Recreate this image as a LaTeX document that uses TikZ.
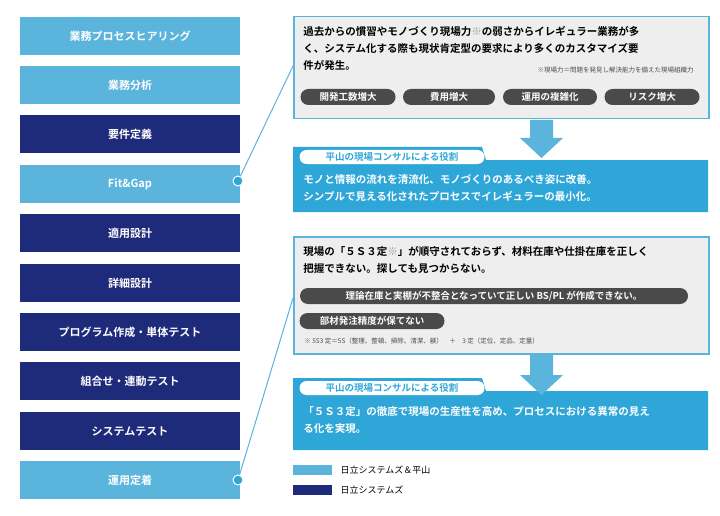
\documentclass[tikz,border=0pt]{standalone}
\usepackage{fontspec}
\setmainfont{Noto Sans CJK JP}
\newfontfamily\jpbold{Noto Sans CJK JP Bold}
\definecolor{lblue}{HTML}{5BB4DC}
\definecolor{navy}{HTML}{1E2A7A}
\definecolor{rblue}{HTML}{2EA7D8}
\definecolor{pillgray}{HTML}{4A4A4A}
\definecolor{boxgray}{HTML}{EEEEEE}
\begin{document}
\begin{tikzpicture}[x=1pt, y=-1pt, thick,
  step box/.style = {draw=none, minimum width=220pt, minimum height=38pt, text=white, font=\jpbold\fontsize{11}{13}\selectfont},
  pill/.style = {rounded corners=8pt, fill=pillgray, text=white, font=\jpbold\fontsize{9.5}{11}\selectfont, minimum height=16pt, inner sep=2pt},
  body/.style = {anchor=west, font=\jpbold\fontsize{10.5}{17}\selectfont, align=left, inner sep=0pt},
  note/.style = {anchor=west, font=\fontsize{6.5}{8}\selectfont, text=black!70, inner sep=0pt},
  tab/.style = {rounded corners=7pt, fill=white, text=rblue, font=\jpbold\fontsize{9.5}{11}\selectfont, minimum height=14pt, minimum width=185pt, inner sep=2pt},
  arr/.style = {fill=lblue, draw=none},
  link/.style = {draw=lblue, line width=1pt},
  dot/.style = {circle, fill=rblue, draw=white, line width=1pt, minimum size=10pt, inner sep=0pt}]
\useasboundingbox (0,0) rectangle (720,516);
% steps
\node[step box, fill=lblue] (s1) at (130,36) {業務プロセスヒアリング};
\node[step box, fill=lblue] (s2) at (130,85) {業務分析};
\node[step box, fill=navy] (s3) at (130,134) {要件定義};
\node[step box, fill=lblue] (s4) at (130,184) {Fit\&Gap};
\node[step box, fill=navy] (s5) at (130,233) {適用設計};
\node[step box, fill=navy] (s6) at (130,283) {詳細設計};
\node[step box, fill=navy] (s7) at (130,332) {プログラム作成・単体テスト};
\node[step box, fill=navy] (s8) at (130,381) {組合せ・連動テスト};
\node[step box, fill=navy] (s9) at (130,431) {システムテスト};
\node[step box, fill=lblue] (s10) at (130,480) {運用定着};
% problem boxes
\node[draw=lblue, fill=boxgray, line width=1.5pt, minimum width=415pt, minimum height=102pt, anchor=north west] (p1) at (293,16) {};
\node[draw=lblue, fill=boxgray, line width=1.5pt, minimum width=415pt, minimum height=117pt, anchor=north west] (p2) at (293,236) {};
\coordinate (c1) at (293,66);
\coordinate (c2) at (293,298);
\draw[link] (c1) -- (238,181);
\draw[link] (c2) -- (238,480);
\node[dot] (d1) at (238,181) {};
\node[dot] (d2) at (238,480) {};
\node[body] (t1) at (303,48) {過去からの慣習やモノづくり現場力{\color{black!40}※}の弱さからイレギュラー業務が多\\く、システム化する際も現状肯定型の要求により多くのカスタマイズ要\\件が発生。};
\node[note, anchor=east] (n1) at (694,70) {※現場力＝問題を発見し解決能力を備えた現場組織力};
\node[pill, minimum width=95pt] (q1) at (348,97) {開発工数増大};
\node[pill, minimum width=92pt] (q2) at (449,97) {費用増大};
\node[pill, minimum width=94pt] (q3) at (550,97) {運用の複雑化};
\node[pill, minimum width=95pt] (q4) at (652,97) {リスク増大};
\node[body] (t2) at (303,260) {現場の「５Ｓ３定{\color{black!40}※}」が順守されておらず、材料在庫や仕掛在庫を正しく\\把握できない。探しても見つからない。};
\node[pill, minimum width=388pt] (q5) at (494,296) {理論在庫と実棚が不整合となっていて正しい BS/PL が作成できない。};
\node[pill, minimum width=145pt] (q6) at (372,321) {部材発注精度が保てない};
\node[note] (n2) at (304,341) {※ 5S3 定＝5S（整理、整頓、掃除、清潔、躾）\quad ＋\quad 3 定（定位、定品、定量）};
% role boxes
\fill[rblue] (293,147) -- (482,147) -- (486,160) -- (708,160) -- (708,212) -- (293,212) -- cycle;
\fill[rblue] (293,378) -- (482,378) -- (486,391) -- (708,391) -- (708,450) -- (293,450) -- cycle;
\node[tab] (r1) at (392,157) {平山の現場コンサルによる役割};
\node[tab] (r2) at (392,388) {平山の現場コンサルによる役割};
\node[body, text=white] (u1) at (303,188) {モノと情報の流れを清流化、モノづくりのあるべき姿に改善。\\シンプルで見える化されたプロセスでイレギュラーの最小化。};
\node[body, text=white] (u2) at (303,420) {「５Ｓ３定」の徹底で現場の生産性を高め、プロセスにおける異常の見え\\る化を実現。};
% arrows
\fill[arr] (530,120) -- (553,120) -- (553,138) -- (563,138) -- (541.5,158) -- (520,138) -- (530,138) -- cycle;
\fill[arr] (530,355) -- (553,355) -- (553,375) -- (563,375) -- (541.5,395) -- (520,375) -- (530,375) -- cycle;
% legend
\fill[lblue] (293,465) rectangle (332,475);
\node[anchor=west, font=\fontsize{9}{11}\selectfont] (l1) at (337,470) {日立システムズ＆平山};
\fill[navy] (293,485) rectangle (332,495);
\node[anchor=west, font=\fontsize{9}{11}\selectfont] (l2) at (337,490) {日立システムズ};
\end{tikzpicture}
\end{document}
